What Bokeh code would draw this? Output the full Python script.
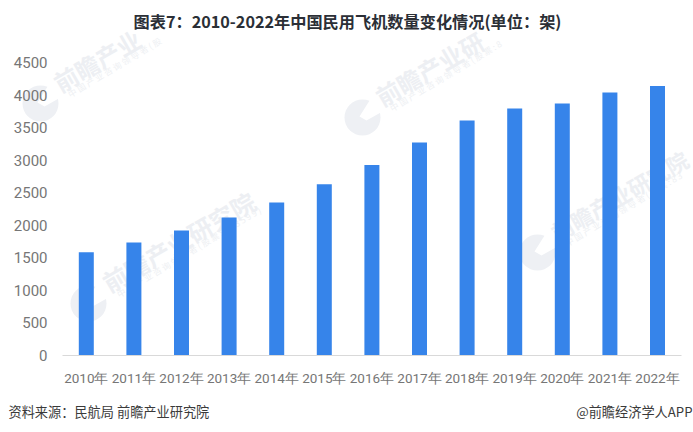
from bokeh.plotting import figure
from bokeh.models import Label, FixedTicker, Range1d, BoxAnnotation, PolyAnnotation
from bokeh.embed import file_html
from bokeh.resources import INLINE

years = ["2010年","2011年","2012年","2013年","2014年","2015年","2016年","2017年","2018年","2019年","2020年","2021年","2022年"]
aircraft = [1585,1735,1920,2120,2350,2630,2925,3272,3610,3795,3870,4040,4140]
y_ticks = [0,500,1000,1500,2000,2500,3000,3500,4000,4500]
title_text = "图表7：2010-2022年中国民用飞机数量变化情况(单位：架)"
source_text = "资料来源：民航局 前瞻产业研究院"
brand_text = "@前瞻经济学人APP"

W, H = 693, 432
PX_X = 47.6          # px per category
LEFT, BASE = 62, 355 # page px of axis origin
PX_Y = 293 / 4500    # px per unit

CJK = "Noto Sans CJK SC"
idx = list(range(len(years)))
p = figure(width=W, height=H,
           x_range=Range1d(-0.5 - LEFT / PX_X, -0.5 + (W - LEFT) / PX_X),
           y_range=Range1d(-(H - BASE) / PX_Y, BASE / PX_Y),
           output_backend="svg", toolbar_location=None,
           min_border=0)
p.outline_line_color = None
p.xgrid.visible = False
p.ygrid.visible = False

def text(t, x, y, size, color, style="normal", angle=0, align="left", level="annotation", font=CJK):
    p.add_layout(Label(x=x, y=H - y, x_units="screen", y_units="screen", text=t,
                       text_font=font, text_font_size=f"{size}px", text_color=color,
                       text_font_style=style, angle=angle, angle_units="deg",
                       text_align=align, text_baseline="alphabetic", level=level))

def logo(cx, cy, r=18):
    p.add_layout(BoxAnnotation(left=cx - r, right=cx + r, top=H - cy + r, bottom=H - cy - r,
                               left_units="screen", right_units="screen", top_units="screen", bottom_units="screen",
                               border_radius=r, fill_color="#eef0f4", fill_alpha=1, line_color=None, level="underlay"))
    xs = [cx - 3, cx + 4, cx + r + 2, cx + r + 2, cx + 9]
    ys = [cy - 1, cy + 3, cy - 6, cy - r - 2, cy - r - 2]
    p.add_layout(PolyAnnotation(xs=xs, ys=[H - v for v in ys],
                                xs_units="screen", ys_units="screen",
                                fill_color="white", fill_alpha=1, line_color=None, level="underlay"))

marks = [
    (40, 103, 55, 84, 24, "前瞻产业", "中 国 产 业 咨 询 领 导 者 ( 股"),
    (362, 117, 377, 98, 24, "前瞻产业研", "中 国 产 业 咨 询 领 导 者 ( 股 票 : 8"),
    (88, 303, 104, 284, 24.5, "前瞻产业研究院", "中 国 产 业 咨 询 领 导 者 ( 股 票 : 8 3 3 5 9 9 )"),
    (537, 252, 552, 233, 22, "前瞻产业研究院", "中 国 产 业 咨 询 领 导 者 ( 股 票 : 8 3"),
]
for cx, cy, tx, ty, size, main, sub in marks:
    logo(cx, cy)
    text(main, tx, ty, size, "#edeff3", "bold", 30, level="underlay")
    text(sub, tx + 13, ty + 10, 8.5, "#eef0f3", "normal", 31, level="underlay")

p.vbar(x=idx, top=aircraft, width=15 / PX_X, color="#3684ea", line_color=None)

p.yaxis.fixed_location = -0.5
p.yaxis.bounds = (0, 4500)
p.yaxis.ticker = FixedTicker(ticks=y_ticks)
p.yaxis.axis_line_color = None
p.yaxis.major_tick_line_color = None
p.yaxis.minor_tick_line_color = None
p.yaxis.major_label_text_font = "Roboto"
p.yaxis.major_label_text_font_size = "15px"
p.yaxis.major_label_text_color = "#767676"
p.yaxis.major_label_standoff = 9

p.xaxis.fixed_location = 0
p.xaxis.bounds = (-0.5, 12.5)
p.xaxis.ticker = FixedTicker(ticks=idx)
p.xaxis.major_label_overrides = dict(zip(idx, years))
p.xaxis.axis_line_color = "#d9d9d9"
p.xaxis.major_tick_line_color = None
p.xaxis.minor_tick_line_color = None
p.xaxis.major_label_text_font = "Roboto"
p.xaxis.major_label_text_font_size = "13.5px"
p.xaxis.major_label_text_color = "#767676"
p.xaxis.major_label_standoff = 8

text(title_text, 347, 20, 16.2, "#2b2f36", "bold", align="center")
text(source_text, 8, 411, 13.2, "#3a3a3a")
text(brand_text, 692, 411, 13.2, "#3a3a3a", align="right")

open("out.html", "w").write(file_html(p, INLINE))
